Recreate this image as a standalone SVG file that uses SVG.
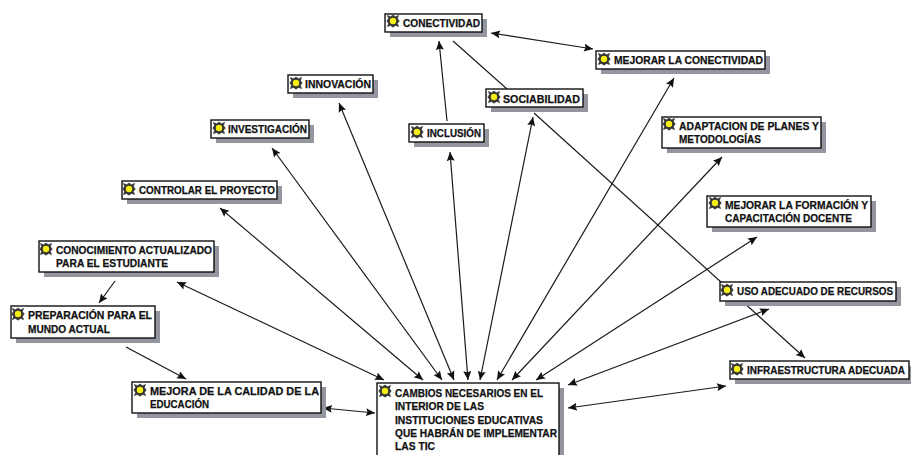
<svg xmlns="http://www.w3.org/2000/svg" width="911" height="455" viewBox="0 0 911 455">
<style>
.sh{fill:#93959f}
.bx{fill:#fff;stroke:#111;stroke-width:1.4}
text{font-family:"Liberation Sans",Arial,sans-serif;font-weight:700;font-size:11px;fill:#111;stroke:#111;stroke-width:.25}
.c line{stroke:#1a1a1a;stroke-width:1.2;fill:none}
.a{marker-end:url(#ah)}
.b{marker-start:url(#as);marker-end:url(#ah)}
</style>
<defs>
<marker id="ah" markerWidth="10" markerHeight="9" refX="9" refY="4" orient="auto" markerUnits="userSpaceOnUse"><path d="M0 0L9 4L0 8L1.5 4Z" fill="#111"/></marker>
<marker id="as" markerWidth="10" markerHeight="9" refX="0" refY="4" orient="auto" markerUnits="userSpaceOnUse"><path d="M9 0L0 4L9 8L7.5 4Z" fill="#111"/></marker>
<g id="star"><rect x="-6" y="-6" width="12" height="12" rx="3" fill="#fff"/><path d="M-5.6 -5.6L-2.5 -4.2L0 -6L2.5 -4.2L5.6 -5.6L4.4 -2.5L6.2 0L4.4 2.5L5.6 5.6L2.5 4.4L0 6.2L-2.5 4.4L-5.6 5.6L-4.4 2.5L-6.2 0L-4.4 -2.5Z" fill="#333" stroke="#333" stroke-width=".6"/><circle r="3.2" fill="#f6ef16"/></g>
</defs>
<rect width="911" height="455" fill="#fff"/>
<g id="connectors" class="c">
<line class="b" x1="491" y1="33" x2="593" y2="49"/>
<line x1="453" y1="41" x2="507" y2="89"/>
<line class="a" x1="447" y1="121" x2="439" y2="41"/>
<line class="a" x1="534" y1="113" x2="805" y2="358"/>
<line class="b" x1="220" y1="208" x2="423" y2="380"/>
<line class="b" x1="177" y1="282" x2="384" y2="380"/>
<line class="b" x1="272" y1="148" x2="442" y2="380"/>
<line class="b" x1="339" y1="103" x2="454" y2="380"/>
<line class="b" x1="450" y1="152" x2="468" y2="380"/>
<line class="b" x1="533" y1="117" x2="480" y2="380"/>
<line class="b" x1="674" y1="78" x2="497" y2="380"/>
<line class="b" x1="722" y1="157" x2="512" y2="380"/>
<line class="b" x1="757" y1="237" x2="536" y2="380"/>
<line class="b" x1="769" y1="309" x2="568" y2="385"/>
<line class="b" x1="726" y1="386" x2="568" y2="408"/>
<line class="b" x1="323" y1="408" x2="375" y2="413"/>
<line class="a" x1="115" y1="281" x2="99" y2="303"/>
<line class="a" x1="126" y1="347" x2="186" y2="379"/>
</g>
<g id="n-conectividad"><rect class="sh" x="390" y="19" width="97" height="18"/><rect class="bx" x="385" y="14" width="97" height="18"/><use href="#star" x="393" y="21"/><text x="403" y="27" textLength="77" lengthAdjust="spacingAndGlyphs">CONECTIVIDAD</text></g>
<g id="n-innovacion"><rect class="sh" x="293" y="80" width="85" height="18"/><rect class="bx" x="288" y="75" width="85" height="18"/><use href="#star" x="296" y="83"/><text x="305" y="88" textLength="66" lengthAdjust="spacingAndGlyphs">INNOVACIÓN</text></g>
<g id="n-inclusion"><rect class="sh" x="414" y="129" width="75" height="18"/><rect class="bx" x="409" y="124" width="75" height="18"/><use href="#star" x="417" y="132"/><text x="427" y="137" textLength="54" lengthAdjust="spacingAndGlyphs">INCLUSIÓN</text></g>
<g id="n-sociabilidad"><rect class="sh" x="491" y="94" width="97" height="18"/><rect class="bx" x="486" y="89" width="97" height="18"/><use href="#star" x="494" y="97"/><text x="503" y="103" textLength="77" lengthAdjust="spacingAndGlyphs">SOCIABILIDAD</text></g>
<g id="n-investigacion"><rect class="sh" x="216" y="125" width="98" height="18"/><rect class="bx" x="211" y="120" width="98" height="18"/><use href="#star" x="219" y="128"/><text x="228" y="133" textLength="79" lengthAdjust="spacingAndGlyphs">INVESTIGACIÓN</text></g>
<g id="n-controlar"><rect class="sh" x="127" y="186" width="155" height="18"/><rect class="bx" x="122" y="181" width="155" height="18"/><use href="#star" x="129" y="189"/><text x="139" y="194" textLength="136" lengthAdjust="spacingAndGlyphs">CONTROLAR EL PROYECTO</text></g>
<g id="n-conocimiento"><rect class="sh" x="44" y="246" width="175" height="31"/><rect class="bx" x="39" y="241" width="175" height="31"/><use href="#star" x="46" y="249"/><text x="56" y="254" textLength="156" lengthAdjust="spacingAndGlyphs">CONOCIMIENTO ACTUALIZADO</text><text x="56" y="267" textLength="112" lengthAdjust="spacingAndGlyphs">PARA EL ESTUDIANTE</text></g>
<g id="n-preparacion"><rect class="sh" x="16" y="311" width="144" height="32"/><rect class="bx" x="11" y="306" width="144" height="32"/><use href="#star" x="18" y="314"/><text x="28" y="319" textLength="124" lengthAdjust="spacingAndGlyphs">PREPARACIÓN PARA EL</text><text x="28" y="333" textLength="82" lengthAdjust="spacingAndGlyphs">MUNDO ACTUAL</text></g>
<g id="n-mejora"><rect class="sh" x="137" y="387" width="189" height="31"/><rect class="bx" x="132" y="382" width="189" height="31"/><use href="#star" x="140" y="390"/><text x="150" y="395" textLength="169" lengthAdjust="spacingAndGlyphs">MEJORA DE LA CALIDAD DE LA</text><text x="150" y="408" textLength="59" lengthAdjust="spacingAndGlyphs">EDUCACIÓN</text></g>
<g id="n-mejorar-conectividad"><rect class="sh" x="601" y="56" width="169" height="18"/><rect class="bx" x="596" y="51" width="169" height="18"/><use href="#star" x="604" y="59"/><text x="614" y="64" textLength="149" lengthAdjust="spacingAndGlyphs">MEJORAR LA CONECTIVIDAD</text></g>
<g id="n-adaptacion"><rect class="sh" x="667" y="122" width="159" height="31"/><rect class="bx" x="662" y="117" width="159" height="31"/><use href="#star" x="669" y="124"/><text x="679" y="130" textLength="140" lengthAdjust="spacingAndGlyphs">ADAPTACION DE PLANES Y</text><text x="679" y="143" textLength="82" lengthAdjust="spacingAndGlyphs">METODOLOGÍAS</text></g>
<g id="n-formacion"><rect class="sh" x="712" y="201" width="164" height="31"/><rect class="bx" x="707" y="196" width="164" height="31"/><use href="#star" x="715" y="203"/><text x="725" y="209" textLength="143" lengthAdjust="spacingAndGlyphs">MEJORAR LA FORMACIÓN Y</text><text x="725" y="222" textLength="127" lengthAdjust="spacingAndGlyphs">CAPACITACIÓN DOCENTE</text></g>
<g id="n-uso"><rect class="sh" x="725" y="287" width="176" height="19"/><rect class="bx" x="720" y="282" width="176" height="19"/><use href="#star" x="727" y="290"/><text x="737" y="295" textLength="156" lengthAdjust="spacingAndGlyphs">USO ADECUADO DE RECURSOS</text></g>
<g id="n-infra"><rect class="sh" x="735" y="366" width="176" height="18"/><rect class="bx" x="730" y="361" width="179" height="18"/><use href="#star" x="737" y="369"/><text x="747" y="374" font-size="10" style="font-size:10px" textLength="158" lengthAdjust="spacingAndGlyphs">INFRAESTRUCTURA ADECUADA</text></g>
<g id="n-cambios"><rect class="sh" x="382" y="388" width="182" height="72"/><rect class="bx" x="377" y="383" width="182" height="76"/><use href="#star" x="385" y="391"/><text x="395" y="397" textLength="148" lengthAdjust="spacingAndGlyphs">CAMBIOS NECESARIOS EN EL</text><text x="395" y="410" textLength="89" lengthAdjust="spacingAndGlyphs">INTERIOR DE LAS</text><text x="395" y="424" textLength="148" lengthAdjust="spacingAndGlyphs">INSTITUCIONES EDUCATIVAS</text><text x="395" y="437" textLength="162" lengthAdjust="spacingAndGlyphs">QUE HABRÁN DE IMPLEMENTAR</text><text x="395" y="450" textLength="40" lengthAdjust="spacingAndGlyphs">LAS TIC</text></g>
</svg>
